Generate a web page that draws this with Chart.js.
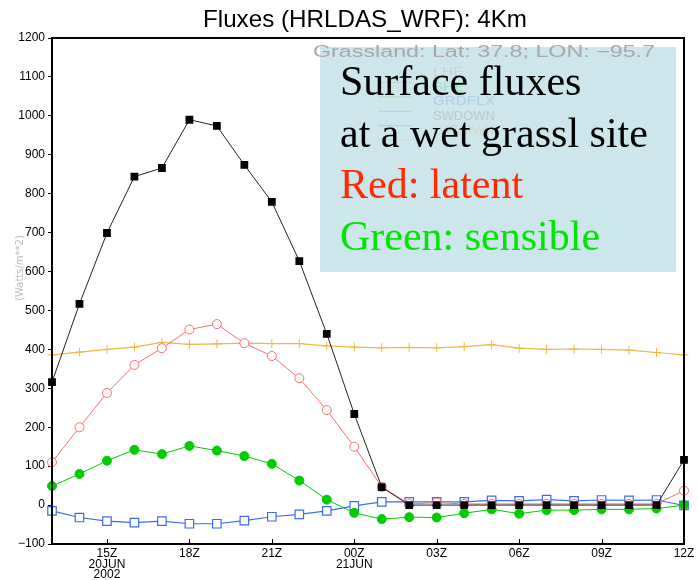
<!DOCTYPE html>
<html>
<head>
<meta charset="utf-8">
<script src="https://cdn.jsdelivr.net/npm/chart.js@4"></script>
<style>
  body { margin: 0; background: #fff; }
  canvas { display: block; }
</style>
</head>
<body>
<canvas id="myChart" width="698" height="580"></canvas>
<script>
// hourly steps, 13Z 20JUN 2002 -> 12Z 21JUN
const hours = ["13Z", "14Z", "15Z", "16Z", "17Z", "18Z", "19Z", "20Z", "21Z", "22Z", "23Z", "00Z",
  "01Z", "02Z", "03Z", "04Z", "05Z", "06Z", "07Z", "08Z", "09Z", "10Z", "11Z", "12Z"];
const shownTicks = ["15Z", "18Z", "21Z", "00Z", "03Z", "06Z", "09Z", "12Z"];
const dateLines = { "15Z": ["20JUN", "2002"], "00Z": ["21JUN"] };

const swdown = [316, 517, 699, 844, 866, 990, 974, 874, 779, 627, 440, 234, 46, 0, 0, 0, 0, 0, 0, 0, 0, 0, 0, 116];
const lhe = [110, 200, 288, 360, 403, 451, 465, 416, 383, 326, 244, 150, 47, 3, 6, 3, 3, 3, 3, 3, 3, 3, 3, 37];
const she = [49, 80, 114, 142, 131, 152, 140, 126, 106, 63, 14, -20, -36, -31, -32, -21, -11, -22, -13, -13, -11, -11, -9, 0];
const grdflx = [-15, -32, -41, -45, -41, -48, -48, -40, -30, -24, -15, -2, 8, 8, 8, 8, 12, 11, 14, 11, 13, 12, 13, -1];
const lwdown = [386, 393, 400, 406, 418, 413, 414, 416, 415, 415, 409, 406, 404, 405, 404, 407, 412, 403, 400, 401, 400, 398, 392, 386];

const legendNames = ["LHE", "SHE", "GRDFLX", "SWDOWN", "LWDOWN"];
const legendColors = ["#ff6b6b", "#00cc00", "#3a6cf0", "#555555", "#f0b840"];

const yMin = -100;
const yMax = 1200;

const title = "Fluxes (HRLDAS_WRF): 4Km";
const siteText = "Grassland: Lat: 37.8; LON: \u221295.7";
const noteLines = ["Surface fluxes", "at a wet grassl site", "Red: latent", "Green: sensible"];
const noteColors = ["#000", "#000", "#ff2a00", "#00e600"];

// squeeze/stretch a text line to a given width
function fitText(ctx, text, x, y, width) {
  const w = ctx.measureText(text).width;
  ctx.save();
  ctx.translate(x, y);
  ctx.scale(width / w, 1);
  ctx.fillText(text, 0, 0);
  ctx.restore();
}

const overlay = {
  id: "overlay",
  afterDraw(chart) {
    const ctx = chart.ctx;
    const a = chart.chartArea;
    const xs = chart.scales.x;
    ctx.save();

    // frame
    ctx.strokeStyle = "#000";
    ctx.lineWidth = 2;
    ctx.strokeRect(a.left, a.top, a.right - a.left, a.bottom - a.top);

    // x ticks pointing inward
    ctx.lineWidth = 1;
    shownTicks.forEach((t) => {
      const px = Math.round(xs.getPixelForValue(hours.indexOf(t))) + 0.5;
      ctx.beginPath();
      ctx.moveTo(px, a.bottom);
      ctx.lineTo(px, a.bottom - 5);
      ctx.stroke();
    });

    // title
    ctx.fillStyle = "#000";
    ctx.font = "24px 'Liberation Sans'";
    ctx.textBaseline = "alphabetic";
    fitText(ctx, title, 203, 27, 324);

    // y axis title (faint)
    ctx.save();
    ctx.translate(20, 268);
    ctx.rotate(-Math.PI / 2);
    ctx.fillStyle = "#bbb";
    ctx.font = "10px 'DejaVu Sans'";
    ctx.textAlign = "center";
    ctx.textBaseline = "middle";
    ctx.fillText("(Watts/m**2)", 0, 0);
    ctx.restore();

    // legend (sits underneath the note box)
    ctx.font = "12px 'Liberation Sans'";
    ctx.textBaseline = "middle";
    legendNames.forEach((n, i) => {
      const ty = 73 + i * 14.4;
      ctx.fillStyle = legendColors[i];
      fitText(ctx, n, 433, ty, n.length * 10.3);
      ctx.strokeStyle = legendColors[i];
      ctx.beginPath();
      ctx.moveTo(378, ty + 9.5);
      ctx.lineTo(412, ty + 9.5);
      ctx.stroke();
    });

    // note box
    ctx.fillStyle = "rgba(196, 226, 231, 0.85)";
    ctx.fillRect(320, 47, 356, 225);

    // site label
    ctx.fillStyle = "#a8a8a8";
    ctx.font = "16px 'Liberation Sans'";
    ctx.textBaseline = "alphabetic";
    fitText(ctx, siteText, 313, 57, 342);

    // note text
    ctx.font = "42px 'Liberation Serif'";
    noteLines.forEach((l, i) => {
      ctx.fillStyle = noteColors[i];
      ctx.fillText(l, 340, 95 + i * 51.5);
    });

    ctx.restore();
  },
};

new Chart(document.getElementById("myChart"), {
  type: "line",
  data: {
    labels: hours,
    datasets: [
      {
        label: "SWDOWN",
        data: swdown,
        borderColor: "#222",
        borderWidth: 1,
        pointStyle: "rect",
        pointRadius: 5.5,
        pointBackgroundColor: "#000",
        pointBorderColor: "#000",
        pointBorderWidth: 0,
      },
      {
        label: "LHE",
        data: lhe,
        borderColor: "#ff6b6b",
        borderWidth: 1,
        pointStyle: "circle",
        pointRadius: 4.5,
        pointBackgroundColor: "#fff",
        pointBorderColor: "#ff6b6b",
        pointBorderWidth: 1,
      },
      {
        label: "SHE",
        data: she,
        borderColor: "#00cc00",
        borderWidth: 1,
        pointStyle: "circle",
        pointRadius: 4.5,
        pointBackgroundColor: "#00cc00",
        pointBorderColor: "#00cc00",
        pointBorderWidth: 1,
      },
      {
        label: "GRDFLX",
        data: grdflx,
        borderColor: "#3a6cf0",
        borderWidth: 1.2,
        pointStyle: "rect",
        pointRadius: 6,
        pointBackgroundColor: "#fff",
        pointBorderColor: "#3a6cf0",
        pointBorderWidth: 1.2,
      },
      {
        label: "LWDOWN",
        data: lwdown,
        borderColor: "#f0b840",
        borderWidth: 1.2,
        pointStyle: "cross",
        pointRadius: 4.5,
        pointBorderColor: "#f0b840",
        pointBorderWidth: 1,
      },
    ],
  },
  options: {
    responsive: false,
    animation: false,
    devicePixelRatio: 1,
    layout: { padding: { top: 38, right: 14, left: 0, bottom: 0 } },
    plugins: {
      legend: { display: false },
      tooltip: { enabled: false },
      title: { display: false },
    },
    scales: {
      x: {
        type: "category",
        grid: { display: false },
        border: { display: false },
        afterFit: (s) => { s.height = 36; },
        ticks: {
          autoSkip: false,
          maxRotation: 0,
          padding: -3,
          color: "#000",
          font: { family: "'Liberation Sans'", size: 12, lineHeight: 0.86 },
          callback: (value, index) => {
            const h = hours[index];
            if (!shownTicks.includes(h)) return "";
            return [h].concat(dateLines[h] || []);
          },
        },
      },
      y: {
        min: yMin,
        max: yMax,
        grid: { drawOnChartArea: false, drawTicks: true, tickLength: 4, color: "#000" },
        border: { display: false },
        afterFit: (s) => { s.width = 52; },
        ticks: {
          stepSize: 100,
          padding: 3,
          color: "#000",
          font: { family: "'Liberation Sans'", size: 12 },
          callback: (v) => (v < 0 ? "\u2212" + Math.abs(v) : v),
        },
      },
    },
  },
  plugins: [overlay],
});
</script>
</body>
</html>
